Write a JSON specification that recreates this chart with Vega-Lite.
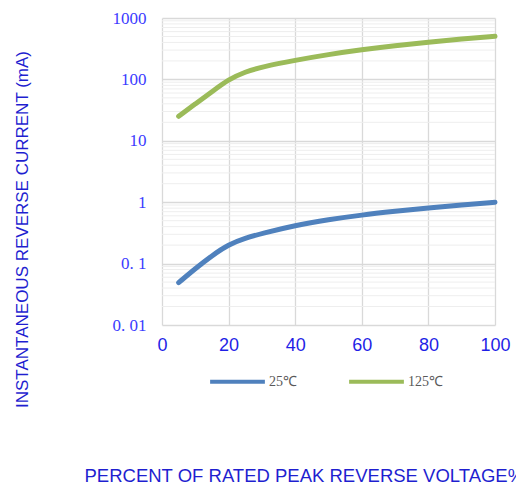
{
  "$schema": "https://vega.github.io/schema/vega-lite/v6.json",
  "width": 333,
  "height": 307,
  "padding": {"left": 162, "top": 18, "right": 21, "bottom": 161},
  "autosize": {"type": "none"},
  "background": "white",
  "config": {"view": {"stroke": null}, "axisY": {"labelFont": "Liberation Serif"}},
  "datasets": {
    "curves": [
      {"pct": 5, "current": 0.049, "series": "25℃"},
      {"pct": 10, "current": 0.083, "series": "25℃"},
      {"pct": 15, "current": 0.135, "series": "25℃"},
      {"pct": 20, "current": 0.205, "series": "25℃"},
      {"pct": 25, "current": 0.26, "series": "25℃"},
      {"pct": 30, "current": 0.31, "series": "25℃"},
      {"pct": 40, "current": 0.42, "series": "25℃"},
      {"pct": 50, "current": 0.52, "series": "25℃"},
      {"pct": 60, "current": 0.62, "series": "25℃"},
      {"pct": 70, "current": 0.71, "series": "25℃"},
      {"pct": 80, "current": 0.81, "series": "25℃"},
      {"pct": 90, "current": 0.9, "series": "25℃"},
      {"pct": 100, "current": 1.0, "series": "25℃"},
      {"pct": 5, "current": 25, "series": "125℃"},
      {"pct": 10, "current": 40, "series": "125℃"},
      {"pct": 15, "current": 63, "series": "125℃"},
      {"pct": 20, "current": 100, "series": "125℃"},
      {"pct": 25, "current": 133, "series": "125℃"},
      {"pct": 30, "current": 160, "series": "125℃"},
      {"pct": 40, "current": 205, "series": "125℃"},
      {"pct": 50, "current": 255, "series": "125℃"},
      {"pct": 60, "current": 305, "series": "125℃"},
      {"pct": 70, "current": 355, "series": "125℃"},
      {"pct": 80, "current": 405, "series": "125℃"},
      {"pct": 90, "current": 455, "series": "125℃"},
      {"pct": 100, "current": 505, "series": "125℃"}
    ],
    "minor": [
      {"v": 0.02}, {"v": 0.03}, {"v": 0.04}, {"v": 0.05}, {"v": 0.06}, {"v": 0.07}, {"v": 0.08}, {"v": 0.09},
      {"v": 0.2}, {"v": 0.3}, {"v": 0.4}, {"v": 0.5}, {"v": 0.6}, {"v": 0.7}, {"v": 0.8}, {"v": 0.9},
      {"v": 2}, {"v": 3}, {"v": 4}, {"v": 5}, {"v": 6}, {"v": 7}, {"v": 8}, {"v": 9},
      {"v": 20}, {"v": 30}, {"v": 40}, {"v": 50}, {"v": 60}, {"v": 70}, {"v": 80}, {"v": 90},
      {"v": 200}, {"v": 300}, {"v": 400}, {"v": 500}, {"v": 600}, {"v": 700}, {"v": 800}, {"v": 900}
    ]
  },
  "layer": [
    {
      "data": {"name": "minor"},
      "mark": {"type": "rule", "color": "#eeeeee", "strokeWidth": 1},
      "encoding": {
        "y": {
          "field": "v", "type": "quantitative", "scale": {"type": "log", "domain": [0.01, 1000]},
          "axis": {
            "values": [0.01, 0.1, 1, 10, 100, 1000],
            "labelExpr": "datum.value == 0.01 ? '0. 01' : datum.value == 0.1 ? '0. 1' : format(datum.value, 'd')",
            "grid": true, "gridColor": "#d9d9d9", "gridWidth": 1.3,
            "domain": false, "ticks": false,
            "labelFont": "Liberation Serif", "labelFontSize": 17, "labelColor": "#3b3bff", "labelPadding": 16,
            "title": "INSTANTANEOUS REVERSE CURRENT (mA)",
            "titleFont": "Liberation Sans", "titleFontSize": 17, "titleFontWeight": "normal", "titleColor": "#1f1fd0",
            "titleAngle": -90, "titleAlign": "center", "titleBaseline": "middle",
            "titleX": -140, "titleY": 211
          }
        }
      }
    },
    {
      "data": {"name": "curves"},
      "mark": {"type": "line", "strokeWidth": 5, "strokeCap": "round", "strokeJoin": "round", "interpolate": "basis"},
      "encoding": {
        "x": {
          "field": "pct", "type": "quantitative",
          "scale": {"domain": [0, 100], "nice": false, "zero": false},
          "axis": {
            "values": [0, 20, 40, 60, 80, 100],
            "grid": true, "gridColor": "#d9d9d9", "gridWidth": 1.3,
            "domain": false, "ticks": false, "labelFlush": false,
            "labelFont": "Liberation Sans", "labelFontSize": 18, "labelColor": "#1f1fe6", "labelPadding": 11,
            "title": "PERCENT OF RATED PEAK REVERSE VOLTAGE%",
            "titleFont": "Liberation Sans", "titleFontSize": 18.5, "titleFontWeight": "normal", "titleColor": "#1f1fd0",
            "titleAnchor": "start", "titleAlign": "left", "titleBaseline": "alphabetic",
            "titleX": -78, "titleY": 156
          }
        },
        "y": {
          "field": "current", "type": "quantitative",
          "scale": {"type": "log", "domain": [0.01, 1000]},
          "axis": {
            "values": [0.01, 0.1, 1, 10, 100, 1000],
            "labelExpr": "datum.value == 0.01 ? '0. 01' : datum.value == 0.1 ? '0. 1' : format(datum.value, 'd')",
            "grid": true, "gridColor": "#d9d9d9", "gridWidth": 1.3,
            "domain": false, "ticks": false,
            "labelFont": "Liberation Serif", "labelFontSize": 17, "labelColor": "#3b3bff", "labelPadding": 16,
            "title": "INSTANTANEOUS REVERSE CURRENT (mA)",
            "titleFont": "Liberation Sans", "titleFontSize": 17, "titleFontWeight": "normal", "titleColor": "#1f1fd0",
            "titleAngle": -90, "titleAlign": "center", "titleBaseline": "middle",
            "titleX": -140, "titleY": 211
          }
        },
        "color": {
          "field": "series", "type": "nominal",
          "scale": {"domain": ["25℃", "125℃"], "range": ["#4f81bd", "#9bbb59"]},
          "legend": {
            "title": null, "orient": "none", "direction": "horizontal",
            "legendX": 46, "legendY": 334,
            "symbolType": "stroke", "symbolSize": 3000, "symbolStrokeWidth": 4,
            "labelFont": "Liberation Serif", "labelFontSize": 14, "labelColor": "#595959",
            "labelOffset": 2, "columnPadding": 44
          }
        }
      }
    }
  ]
}
